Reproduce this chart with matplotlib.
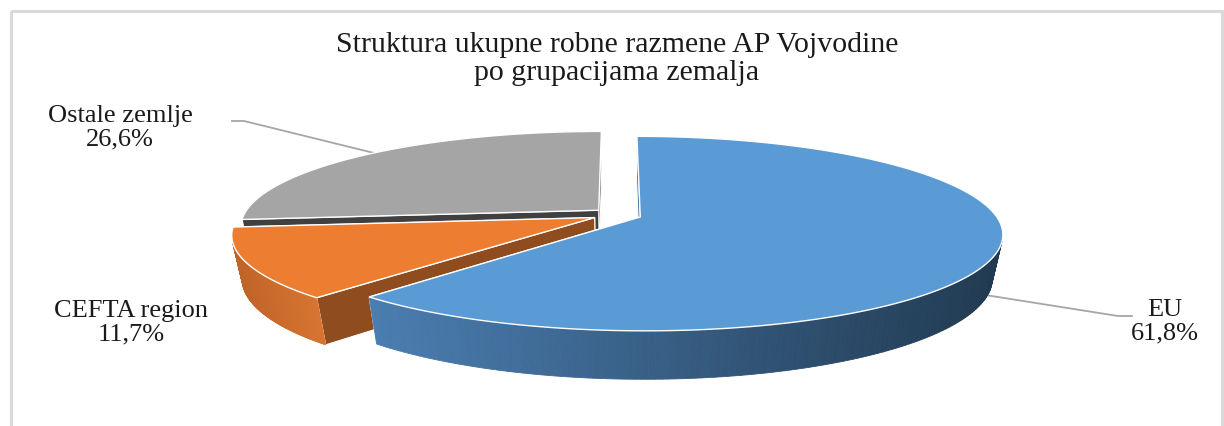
import numpy as np
import matplotlib.pyplot as plt
from matplotlib.patches import Polygon, Rectangle
from matplotlib.colors import LinearSegmentedColormap

plt.rcParams['font.family'] = ['Liberation Serif', 'DejaVu Serif']

title = "Struktura ukupne robne razmene AP Vojvodine\npo grupacijama zemalja"
labels = ['EU', 'CEFTA region', 'Ostale zemlje']
values = [61.8, 11.7, 26.6]
value_text = ['61,8%', '11,7%', '26,6%']

top_colors = ['#5b9bd5', '#ed7d31', '#a5a5a5']
wall_colors = [('#4a7db0', '#213a51'), ('#bf6328', '#d77531'), ('#8a8a8a', '#7a7a7a')]
cut_colors = ['#41719c', '#8f4c1e', '#404040']

# projection of the tilted disc (pixel units)
elev = np.radians(30)
D = 5.09
SX, SY = 355.0, 187.2
CX, CY = 617.0, 214.6
H = 0.274
explode = 0.07


def proj(x, y, z):
    w = D + y * np.cos(elev) - z * np.sin(elev)
    v = y * np.sin(elev) + z * np.cos(elev)
    return CX + SX * x * D / w, CY - SY * v * D / w


cam = np.array([0.0, -D * np.cos(elev), D * np.sin(elev)])


def visible(normal, point):
    return np.dot(normal, cam - np.asarray(point)) > 0


fig = plt.figure(figsize=(12.24, 4.26), dpi=100)
ax = fig.add_axes([0, 0, 1, 1])
ax.set_xlim(0, 1224)
ax.set_ylim(426, 0)
ax.axis('off')

# chart border
ax.add_patch(Rectangle((10.5, 11), 1211, 430, fill=False, ec='#d9d9d9', lw=2.2))

fracs = np.array(values) / sum(values) * 360
ends = 90 - np.cumsum(fracs)
starts = ends + fracs

slices = []
for i in range(len(values)):
    a1, a2 = np.radians(ends[i]), np.radians(starts[i])
    mid = (a1 + a2) / 2
    slices.append((a1, a2, explode * np.cos(mid), explode * np.sin(mid)))

anchors = {}
for order, i in enumerate([2, 1, 0]):
    a1, a2, dx, dy = slices[i]
    zb = 2 + order * 3
    # radial cut faces (hidden ones first)
    faces = []
    for a, n in [(a1, (np.sin(a1), -np.cos(a1), 0)), (a2, (-np.sin(a2), np.cos(a2), 0))]:
        pts3 = [(dx, dy, 0), (dx + np.cos(a), dy + np.sin(a), 0),
                (dx + np.cos(a), dy + np.sin(a), -H), (dx, dy, -H)]
        c3 = np.mean(pts3, axis=0)
        faces.append((visible(n, c3), pts3))
    for vis, pts3 in sorted(faces, key=lambda f: f[0]):
        pts = [proj(*p) for p in pts3]
        ax.add_patch(Polygon(pts, closed=True, fc=cut_colors[i], ec='white', lw=0.8, zorder=zb))

    # outer wall
    t = np.linspace(a1, a2, 240)
    cmap = LinearSegmentedColormap.from_list('w%d' % i, wall_colors[i])
    xs_all = [proj(dx + np.cos(tt), dy + np.sin(tt), 0)[0] for tt in t]
    xmin, xmax = min(xs_all), max(xs_all)
    for k in range(len(t) - 1):
        tm = (t[k] + t[k + 1]) / 2
        n = (np.cos(tm), np.sin(tm), 0)
        if not visible(n, (dx + np.cos(tm), dy + np.sin(tm), -H / 2)):
            continue
        quad = [proj(dx + np.cos(t[k]), dy + np.sin(t[k]), 0),
                proj(dx + np.cos(t[k + 1]), dy + np.sin(t[k + 1]), 0),
                proj(dx + np.cos(t[k + 1]), dy + np.sin(t[k + 1]), -H),
                proj(dx + np.cos(t[k]), dy + np.sin(t[k]), -H)]
        frac = (quad[0][0] - 370) / (1000 - 370) if i == 0 else (quad[0][0] - xmin) / max(xmax - xmin, 1)
        col = cmap(np.clip(frac, 0, 1))
        ax.add_patch(Polygon(quad, closed=True, fc=col, ec=col, lw=0.6, zorder=zb + 1))

    # top face
    top = [proj(dx, dy, 0)] + [proj(dx + np.cos(tt), dy + np.sin(tt), 0) for tt in t]
    ax.add_patch(Polygon(top, closed=True, fc=top_colors[i], ec='white', lw=1.0, zorder=zb + 2))

    anchors[i] = (dx, dy)

# labels
lab_font = 19
dx, dy = anchors[2]
ta = np.radians(136)
p_o = proj(dx + np.cos(ta), dy + np.sin(ta), 0)
ax.plot([232, 244, p_o[0]], [121, 121, p_o[1]], color='#a6a6a6', lw=1.3, zorder=1)
ax.text(120, 128, labels[2] + '\n' + value_text[2], ha='center', va='center',
        fontsize=lab_font, linespacing=1.1, color='#1a1a1a')

ax.text(131, 323, labels[1] + '\n' + value_text[1], ha='center', va='center',
        fontsize=lab_font, linespacing=1.1, color='#1a1a1a')

dx, dy = anchors[0]
ta = np.radians(-24)
p_e = proj(dx + np.cos(ta), dy + np.sin(ta), -0.8 * H)
ax.plot([p_e[0], 1118, 1132], [p_e[1], 316, 316], color='#a6a6a6', lw=1.3, zorder=1)
ax.text(1165, 322, labels[0] + '\n' + value_text[0], ha='center', va='center',
        fontsize=lab_font, linespacing=1.1, color='#1a1a1a')

ax.text(617, 59, title, ha='center', va='center', fontsize=21.5, linespacing=1.05, color='#1a1a1a')

fig.savefig('out.png', dpi=100)
